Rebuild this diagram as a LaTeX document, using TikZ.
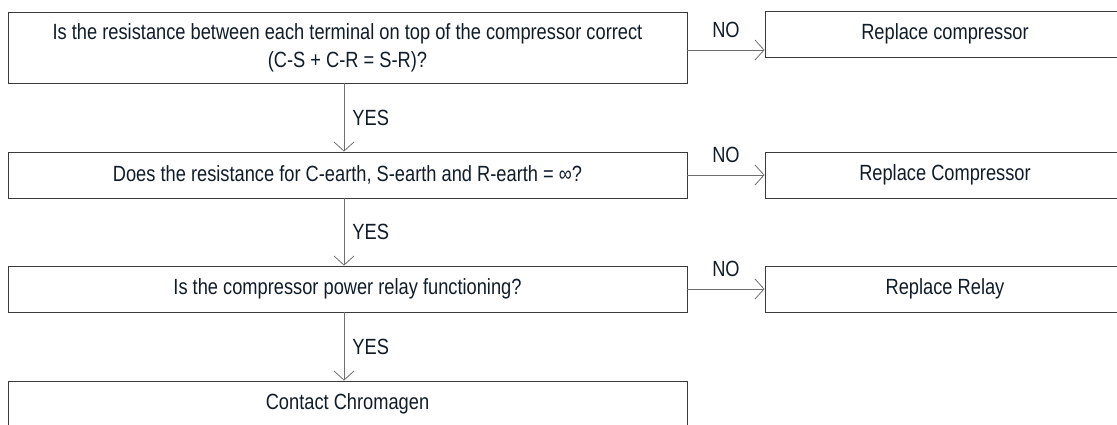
\documentclass[tikz,border=0pt]{standalone}
\usepackage{fontspec}
\setmainfont{Liberation Sans}[FakeStretch=0.83]
\usetikzlibrary{arrows.meta}
\definecolor{boxgray}{HTML}{3A3A3A}
\definecolor{flowgray}{HTML}{6E6E6E}
\definecolor{inkblue}{HTML}{111C29}

\begin{document}
\begin{tikzpicture}[x=1pt,y=-1pt,
box/.style={draw=boxgray, line width=0.9pt, minimum height=46pt, inner sep=0pt,
  text=inkblue, font=\fontsize{22}{28}\selectfont, align=center},
qbox/.style={box, minimum width=679pt},
abox/.style={box, minimum width=360pt},
flow/.style={draw=flowgray, line width=0.8pt, -{Straight Barb[length=9pt,width=20pt]}},
lbl/.style={inner sep=0pt, text=inkblue, font=\fontsize{22}{26}\selectfont},
]
\useasboundingbox (0,0) rectangle (1117,424);
\clip (0,0) rectangle (1117,424);
% вопросы
\node[qbox, minimum height=71pt] (q1) at (347.5,47.5)
  {Is the resistance between each terminal on top of the compressor correct\\(C-S + C-R = S-R)?};
\node[qbox] (q2) at (347.5,175) {Does the resistance for C-earth, S-earth and R-earth = ∞?};
\node[qbox] (q3) at (347.5,289) {Is the compressor power relay functioning?};
\node[qbox] (q4) at (347.5,404) {Contact Chromagen};
% действия
\node[abox] (r1) at (945,34) {Replace compressor};
\node[abox] (r2) at (945,175) {Replace Compressor};
\node[abox] (r3) at (945,289) {Replace Relay};
% стрелки
\draw[flow] ([yshift=-2.5pt]q1.east) -- ([yshift=-2.5pt]q1.east -| r1.west)
  node[lbl, midway, above=12pt] {NO};
\draw[flow] (q2.east) -- (r2.west) node[lbl, midway, above=12pt] {NO};
\draw[flow] (q3.east) -- (r3.west) node[lbl, midway, above=12pt] {NO};
\draw[flow] ([xshift=-3.5pt]q1.south) -- ([xshift=-3.5pt]q2.north)
  node[lbl, midway, right=8pt] {YES};
\draw[flow] ([xshift=-3.5pt]q2.south) -- ([xshift=-3.5pt]q3.north)
  node[lbl, midway, right=8pt] {YES};
\draw[flow] ([xshift=-3.5pt]q3.south) -- ([xshift=-3.5pt]q4.north)
  node[lbl, midway, right=8pt] {YES};
\end{tikzpicture}
\end{document}
